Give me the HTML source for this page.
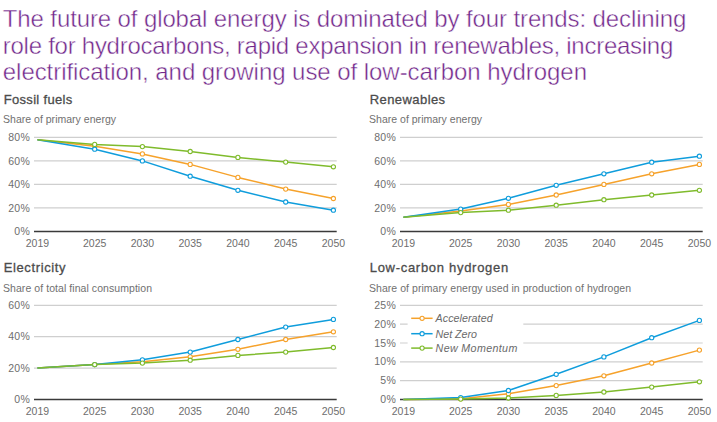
<!DOCTYPE html>
<html><head><meta charset="utf-8"><style>
html,body{margin:0;padding:0;background:#fff;width:717px;height:422px;overflow:hidden}
svg{display:block}
text{font-family:"Liberation Sans",sans-serif}
.tt{font-size:24px;fill:#71278A;stroke:#fff;stroke-width:0.45px}
.pt{font-size:13px;font-weight:400;fill:#4c4c4c;stroke:#4c4c4c;stroke-width:0.3px}
.ps{font-size:10.5px;fill:#707070}
.yl{font-size:10.5px;fill:#6e6e6e;text-anchor:end;letter-spacing:0.3px}
.xl{font-size:10.5px;fill:#6e6e6e;text-anchor:middle}
.lg{font-size:10.7px;font-style:italic;fill:#6a6a6a}
.gl{stroke:#cfcfcf;stroke-width:1.2}
.ax{stroke:#3a3a3a;stroke-width:1.5}
.ln{fill:none;stroke-width:1.5;stroke-linejoin:round}
.mk{fill:#fff;stroke-width:1.1}
</style></head><body>
<svg width="717" height="422" viewBox="0 0 717 422">
<text class="tt" x="2.8" y="26.8" textLength="683.6">The future of global energy is dominated by four trends: declining</text>
<text class="tt" x="2.8" y="53.9" textLength="670.5">role for hydrocarbons, rapid expansion in renewables, increasing</text>
<text class="tt" x="2.8" y="79.8" textLength="584.2">electrification, and growing use of low-carbon hydrogen</text>
<text class="pt" x="3.7" y="103.8" textLength="68.5">Fossil fuels</text>
<text class="ps" x="3.0" y="122.8" textLength="113">Share of primary energy</text>
<text class="yl" x="30.1" y="141.0">80%</text>
<line class="gl" x1="34.0" x2="336.7" y1="137.40" y2="137.40"/>
<text class="yl" x="30.1" y="164.5">60%</text>
<line class="gl" x1="34.0" x2="336.7" y1="160.90" y2="160.90"/>
<text class="yl" x="30.1" y="188.0">40%</text>
<line class="gl" x1="34.0" x2="336.7" y1="184.40" y2="184.40"/>
<text class="yl" x="30.1" y="211.5">20%</text>
<line class="gl" x1="34.0" x2="336.7" y1="207.90" y2="207.90"/>
<text class="yl" x="30.1" y="235.0">0%</text>
<line class="ax" x1="34.0" x2="336.7" y1="231.40" y2="231.40"/>
<text class="xl" x="37.4" y="246.5">2019</text>
<text class="xl" x="94.7" y="246.5">2025</text>
<text class="xl" x="142.4" y="246.5">2030</text>
<text class="xl" x="190.2" y="246.5">2035</text>
<text class="xl" x="237.9" y="246.5">2040</text>
<text class="xl" x="285.7" y="246.5">2045</text>
<text class="xl" x="333.4" y="246.5">2050</text>
<polyline class="ln" stroke="#F6A22B" points="37.4,139.8 94.7,146.3 142.4,153.9 190.2,164.4 237.9,177.4 285.7,189.1 333.4,198.5"/>
<circle class="mk" stroke="#F6A22B" cx="94.7" cy="146.3" r="2.1"/>
<circle class="mk" stroke="#F6A22B" cx="142.4" cy="153.9" r="2.1"/>
<circle class="mk" stroke="#F6A22B" cx="190.2" cy="164.4" r="2.1"/>
<circle class="mk" stroke="#F6A22B" cx="237.9" cy="177.4" r="2.1"/>
<circle class="mk" stroke="#F6A22B" cx="285.7" cy="189.1" r="2.1"/>
<circle class="mk" stroke="#F6A22B" cx="333.4" cy="198.5" r="2.1"/>
<polyline class="ln" stroke="#0F9DDC" points="37.4,139.8 94.7,149.2 142.4,160.9 190.2,176.2 237.9,190.3 285.7,202.0 333.4,210.2"/>
<circle class="mk" stroke="#0F9DDC" cx="94.7" cy="149.2" r="2.1"/>
<circle class="mk" stroke="#0F9DDC" cx="142.4" cy="160.9" r="2.1"/>
<circle class="mk" stroke="#0F9DDC" cx="190.2" cy="176.2" r="2.1"/>
<circle class="mk" stroke="#0F9DDC" cx="237.9" cy="190.3" r="2.1"/>
<circle class="mk" stroke="#0F9DDC" cx="285.7" cy="202.0" r="2.1"/>
<circle class="mk" stroke="#0F9DDC" cx="333.4" cy="210.2" r="2.1"/>
<polyline class="ln" stroke="#7FBB2C" points="37.4,139.8 94.7,144.4 142.4,146.6 190.2,151.5 237.9,157.4 285.7,162.1 333.4,166.8"/>
<circle class="mk" stroke="#7FBB2C" cx="94.7" cy="144.4" r="2.1"/>
<circle class="mk" stroke="#7FBB2C" cx="142.4" cy="146.6" r="2.1"/>
<circle class="mk" stroke="#7FBB2C" cx="190.2" cy="151.5" r="2.1"/>
<circle class="mk" stroke="#7FBB2C" cx="237.9" cy="157.4" r="2.1"/>
<circle class="mk" stroke="#7FBB2C" cx="285.7" cy="162.1" r="2.1"/>
<circle class="mk" stroke="#7FBB2C" cx="333.4" cy="166.8" r="2.1"/>
<text class="pt" x="369.7" y="103.8" textLength="75.4">Renewables</text>
<text class="ps" x="369.0" y="122.8" textLength="113">Share of primary energy</text>
<text class="yl" x="396.1" y="141.0">80%</text>
<line class="gl" x1="400.0" x2="702.7" y1="137.40" y2="137.40"/>
<text class="yl" x="396.1" y="164.5">60%</text>
<line class="gl" x1="400.0" x2="702.7" y1="160.90" y2="160.90"/>
<text class="yl" x="396.1" y="188.0">40%</text>
<line class="gl" x1="400.0" x2="702.7" y1="184.40" y2="184.40"/>
<text class="yl" x="396.1" y="211.5">20%</text>
<line class="gl" x1="400.0" x2="702.7" y1="207.90" y2="207.90"/>
<text class="yl" x="396.1" y="235.0">0%</text>
<line class="ax" x1="400.0" x2="702.7" y1="231.40" y2="231.40"/>
<text class="xl" x="403.4" y="246.5">2019</text>
<text class="xl" x="460.7" y="246.5">2025</text>
<text class="xl" x="508.4" y="246.5">2030</text>
<text class="xl" x="556.2" y="246.5">2035</text>
<text class="xl" x="603.9" y="246.5">2040</text>
<text class="xl" x="651.7" y="246.5">2045</text>
<text class="xl" x="699.4" y="246.5">2050</text>
<polyline class="ln" stroke="#F6A22B" points="403.4,217.3 460.7,211.0 508.4,204.4 556.2,195.0 603.9,184.4 651.7,173.8 699.4,164.4"/>
<circle class="mk" stroke="#F6A22B" cx="460.7" cy="211.0" r="2.1"/>
<circle class="mk" stroke="#F6A22B" cx="508.4" cy="204.4" r="2.1"/>
<circle class="mk" stroke="#F6A22B" cx="556.2" cy="195.0" r="2.1"/>
<circle class="mk" stroke="#F6A22B" cx="603.9" cy="184.4" r="2.1"/>
<circle class="mk" stroke="#F6A22B" cx="651.7" cy="173.8" r="2.1"/>
<circle class="mk" stroke="#F6A22B" cx="699.4" cy="164.4" r="2.1"/>
<polyline class="ln" stroke="#0F9DDC" points="403.4,217.3 460.7,209.1 508.4,198.3 556.2,185.3 603.9,173.8 651.7,162.2 699.4,156.2"/>
<circle class="mk" stroke="#0F9DDC" cx="460.7" cy="209.1" r="2.1"/>
<circle class="mk" stroke="#0F9DDC" cx="508.4" cy="198.3" r="2.1"/>
<circle class="mk" stroke="#0F9DDC" cx="556.2" cy="185.3" r="2.1"/>
<circle class="mk" stroke="#0F9DDC" cx="603.9" cy="173.8" r="2.1"/>
<circle class="mk" stroke="#0F9DDC" cx="651.7" cy="162.2" r="2.1"/>
<circle class="mk" stroke="#0F9DDC" cx="699.4" cy="156.2" r="2.1"/>
<polyline class="ln" stroke="#7FBB2C" points="403.4,217.3 460.7,212.6 508.4,210.2 556.2,205.2 603.9,199.7 651.7,195.0 699.4,190.3"/>
<circle class="mk" stroke="#7FBB2C" cx="460.7" cy="212.6" r="2.1"/>
<circle class="mk" stroke="#7FBB2C" cx="508.4" cy="210.2" r="2.1"/>
<circle class="mk" stroke="#7FBB2C" cx="556.2" cy="205.2" r="2.1"/>
<circle class="mk" stroke="#7FBB2C" cx="603.9" cy="199.7" r="2.1"/>
<circle class="mk" stroke="#7FBB2C" cx="651.7" cy="195.0" r="2.1"/>
<circle class="mk" stroke="#7FBB2C" cx="699.4" cy="190.3" r="2.1"/>
<text class="pt" x="3.7" y="272.4" textLength="61.8">Electricity</text>
<text class="ps" x="3.0" y="291.8" textLength="149">Share of total final consumption</text>
<text class="yl" x="30.1" y="308.9">60%</text>
<line class="gl" x1="34.0" x2="336.7" y1="305.30" y2="305.30"/>
<text class="yl" x="30.1" y="340.3">40%</text>
<line class="gl" x1="34.0" x2="336.7" y1="336.70" y2="336.70"/>
<text class="yl" x="30.1" y="371.7">20%</text>
<line class="gl" x1="34.0" x2="336.7" y1="368.10" y2="368.10"/>
<text class="yl" x="30.1" y="403.1">0%</text>
<line class="ax" x1="34.0" x2="336.7" y1="399.50" y2="399.50"/>
<text class="xl" x="37.4" y="414.6">2019</text>
<text class="xl" x="94.7" y="414.6">2025</text>
<text class="xl" x="142.4" y="414.6">2030</text>
<text class="xl" x="190.2" y="414.6">2035</text>
<text class="xl" x="237.9" y="414.6">2040</text>
<text class="xl" x="285.7" y="414.6">2045</text>
<text class="xl" x="333.4" y="414.6">2050</text>
<polyline class="ln" stroke="#F6A22B" points="37.4,368.1 94.7,364.6 142.4,361.8 190.2,356.8 237.9,349.3 285.7,339.5 333.4,331.8"/>
<circle class="mk" stroke="#F6A22B" cx="94.7" cy="364.6" r="2.1"/>
<circle class="mk" stroke="#F6A22B" cx="142.4" cy="361.8" r="2.1"/>
<circle class="mk" stroke="#F6A22B" cx="190.2" cy="356.8" r="2.1"/>
<circle class="mk" stroke="#F6A22B" cx="237.9" cy="349.3" r="2.1"/>
<circle class="mk" stroke="#F6A22B" cx="285.7" cy="339.5" r="2.1"/>
<circle class="mk" stroke="#F6A22B" cx="333.4" cy="331.8" r="2.1"/>
<polyline class="ln" stroke="#0F9DDC" points="37.4,368.1 94.7,364.6 142.4,359.8 190.2,352.1 237.9,339.5 285.7,327.1 333.4,319.4"/>
<circle class="mk" stroke="#0F9DDC" cx="94.7" cy="364.6" r="2.1"/>
<circle class="mk" stroke="#0F9DDC" cx="142.4" cy="359.8" r="2.1"/>
<circle class="mk" stroke="#0F9DDC" cx="190.2" cy="352.1" r="2.1"/>
<circle class="mk" stroke="#0F9DDC" cx="237.9" cy="339.5" r="2.1"/>
<circle class="mk" stroke="#0F9DDC" cx="285.7" cy="327.1" r="2.1"/>
<circle class="mk" stroke="#0F9DDC" cx="333.4" cy="319.4" r="2.1"/>
<polyline class="ln" stroke="#7FBB2C" points="37.4,368.1 94.7,364.6 142.4,363.1 190.2,360.2 237.9,355.4 285.7,352.1 333.4,347.5"/>
<circle class="mk" stroke="#7FBB2C" cx="94.7" cy="364.6" r="2.1"/>
<circle class="mk" stroke="#7FBB2C" cx="142.4" cy="363.1" r="2.1"/>
<circle class="mk" stroke="#7FBB2C" cx="190.2" cy="360.2" r="2.1"/>
<circle class="mk" stroke="#7FBB2C" cx="237.9" cy="355.4" r="2.1"/>
<circle class="mk" stroke="#7FBB2C" cx="285.7" cy="352.1" r="2.1"/>
<circle class="mk" stroke="#7FBB2C" cx="333.4" cy="347.5" r="2.1"/>
<text class="pt" x="369.7" y="272.4" textLength="138.5">Low-carbon hydrogen</text>
<text class="ps" x="369.0" y="291.8" textLength="262">Share of primary energy used in production of hydrogen</text>
<text class="yl" x="396.1" y="308.9">25%</text>
<line class="gl" x1="400.0" x2="702.7" y1="305.30" y2="305.30"/>
<text class="yl" x="396.1" y="327.7">20%</text>
<line class="gl" x1="400.0" x2="702.7" y1="324.14" y2="324.14"/>
<text class="yl" x="396.1" y="346.6">15%</text>
<line class="gl" x1="400.0" x2="702.7" y1="342.98" y2="342.98"/>
<text class="yl" x="396.1" y="365.4">10%</text>
<line class="gl" x1="400.0" x2="702.7" y1="361.82" y2="361.82"/>
<text class="yl" x="396.1" y="384.3">5%</text>
<line class="gl" x1="400.0" x2="702.7" y1="380.66" y2="380.66"/>
<text class="yl" x="396.1" y="403.1">0%</text>
<line class="ax" x1="400.0" x2="702.7" y1="399.50" y2="399.50"/>
<text class="xl" x="403.4" y="414.6">2019</text>
<text class="xl" x="460.7" y="414.6">2025</text>
<text class="xl" x="508.4" y="414.6">2030</text>
<text class="xl" x="556.2" y="414.6">2035</text>
<text class="xl" x="603.9" y="414.6">2040</text>
<text class="xl" x="651.7" y="414.6">2045</text>
<text class="xl" x="699.4" y="414.6">2050</text>
<polyline class="ln" stroke="#F6A22B" points="403.4,399.5 460.7,398.7 508.4,393.8 556.2,385.6 603.9,375.8 651.7,363.0 699.4,350.1"/>
<circle class="mk" stroke="#F6A22B" cx="460.7" cy="398.7" r="2.1"/>
<circle class="mk" stroke="#F6A22B" cx="508.4" cy="393.8" r="2.1"/>
<circle class="mk" stroke="#F6A22B" cx="556.2" cy="385.6" r="2.1"/>
<circle class="mk" stroke="#F6A22B" cx="603.9" cy="375.8" r="2.1"/>
<circle class="mk" stroke="#F6A22B" cx="651.7" cy="363.0" r="2.1"/>
<circle class="mk" stroke="#F6A22B" cx="699.4" cy="350.1" r="2.1"/>
<polyline class="ln" stroke="#0F9DDC" points="403.4,399.5 460.7,397.6 508.4,390.5 556.2,374.3 603.9,356.9 651.7,337.7 699.4,320.4"/>
<circle class="mk" stroke="#0F9DDC" cx="460.7" cy="397.6" r="2.1"/>
<circle class="mk" stroke="#0F9DDC" cx="508.4" cy="390.5" r="2.1"/>
<circle class="mk" stroke="#0F9DDC" cx="556.2" cy="374.3" r="2.1"/>
<circle class="mk" stroke="#0F9DDC" cx="603.9" cy="356.9" r="2.1"/>
<circle class="mk" stroke="#0F9DDC" cx="651.7" cy="337.7" r="2.1"/>
<circle class="mk" stroke="#0F9DDC" cx="699.4" cy="320.4" r="2.1"/>
<polyline class="ln" stroke="#7FBB2C" points="403.4,399.5 460.7,399.1 508.4,398.0 556.2,395.4 603.9,392.0 651.7,387.1 699.4,381.8"/>
<circle class="mk" stroke="#7FBB2C" cx="460.7" cy="399.1" r="2.1"/>
<circle class="mk" stroke="#7FBB2C" cx="508.4" cy="398.0" r="2.1"/>
<circle class="mk" stroke="#7FBB2C" cx="556.2" cy="395.4" r="2.1"/>
<circle class="mk" stroke="#7FBB2C" cx="603.9" cy="392.0" r="2.1"/>
<circle class="mk" stroke="#7FBB2C" cx="651.7" cy="387.1" r="2.1"/>
<circle class="mk" stroke="#7FBB2C" cx="699.4" cy="381.8" r="2.1"/>

<rect x="407.6" y="310" width="115.7" height="45" fill="#fff"/>
<line x1="411.2" x2="432.6" y1="318.3" y2="318.3" stroke="#F6A22B" stroke-width="1.5"/><circle class="mk" stroke="#F6A22B" cx="422.1" cy="318.3" r="2.1"/>
<line x1="411.2" x2="432.6" y1="333.7" y2="333.7" stroke="#0F9DDC" stroke-width="1.5"/><circle class="mk" stroke="#0F9DDC" cx="422.1" cy="333.7" r="2.1"/>
<line x1="411.2" x2="432.6" y1="348.1" y2="348.1" stroke="#7FBB2C" stroke-width="1.5"/><circle class="mk" stroke="#7FBB2C" cx="422.1" cy="348.1" r="2.1"/>
<text class="lg" x="435.6" y="322" textLength="57">Accelerated</text>
<text class="lg" x="435.6" y="337.9" textLength="41.4">Net Zero</text>
<text class="lg" x="435.6" y="351.9" textLength="81.7">New Momentum</text>

</svg>
</body></html>
